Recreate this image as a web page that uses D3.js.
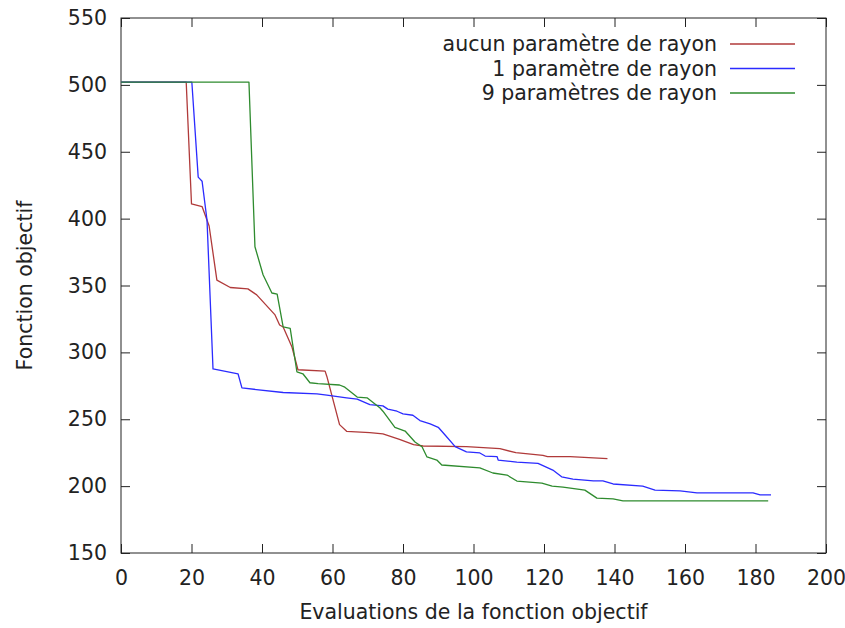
<!DOCTYPE html>
<html>
<head>
<meta charset="utf-8">
<script src="https://cdn.jsdelivr.net/npm/d3@7"></script>
<style>
  body { margin: 0; background: #fff; }
  svg text { font-family: "DejaVu Sans", sans-serif; fill: #222; }
</style>
</head>
<body>
<svg width="845" height="628"></svg>
<script>
// series
var seriesNames = ["aucun paramètre de rayon", "1 paramètre de rayon", "9 paramètres de rayon"];
var seriesColors = ["#b03a3a", "#2b2bff", "#2e8b2e"];

var redX = [0, 18.5, 20, 23, 25, 27.2, 31, 36, 38.5, 43.7, 45, 46, 48.5, 50.2, 57.9, 58.4, 62, 64, 70.6, 74.3, 79, 83, 85.7, 98, 107.5, 112, 119.7, 121, 127.4, 138];
var redY = [502, 502, 411, 409, 394.5, 354, 348.5, 347.5, 343, 328, 320.5, 319, 304, 287, 286, 282, 246, 241, 240, 239, 235, 231, 230, 229.5, 228, 225, 223, 222, 222, 220.5];

var blueX = [0, 20.1, 21.9, 23, 24.4, 26.1, 33.2, 34.3, 46, 55.6, 58.4, 64, 67, 70.6, 74.3, 75.7, 78.3, 80, 82.8, 84.8, 87.7, 90, 92, 94.8, 98, 101.8, 103.3, 106.7, 107, 112.3, 118.3, 122.5, 125, 128.2, 134, 136.7, 139.6, 148, 151.5, 158.6, 163.4, 179.3, 181.3, 184.4];
var blueY = [502, 502, 431, 428, 399, 287.6, 284, 273.4, 270, 269, 268, 266, 265, 261, 260, 257.6, 256, 254, 253, 249, 246.5, 244, 238, 229.5, 225.6, 224.8, 222.5, 222, 219.5, 218, 217, 212, 207, 205.3, 204, 204, 201.6, 200, 197, 196.4, 195, 195, 193.4, 193.4];

var greenX = [0, 36.3, 38, 40.3, 42.8, 44.3, 46, 48, 49.9, 51.6, 53.6, 55.9, 62, 63.5, 67, 69.8, 73.5, 74.3, 77.7, 80.6, 83.4, 85.4, 86.8, 89.6, 91, 101.8, 105.5, 109.5, 112.3, 119.4, 122.3, 125.4, 131.6, 135, 139.6, 142.4, 183.6];
var greenY = [502, 502, 379, 358, 344.4, 343.6, 319, 318, 285.5, 284, 277.3, 276.6, 275.6, 274, 266.6, 266, 258.4, 256, 244, 241.2, 233, 229.5, 221.8, 219.5, 215.8, 213.6, 209.8, 208.3, 203.8, 202.3, 200, 199.3, 197, 191, 190.4, 189, 189];

var xTicks = [0, 20, 40, 60, 80, 100, 120, 140, 160, 180, 200];
var yTicks = [150, 200, 250, 300, 350, 400, 450, 500, 550];

var fontSize = "20.5px";

var svg = d3.select("svg"),
    margin = {left: 121, top: 18, right: 19, bottom: 75},
    width = svg.attr("width") - margin.left - margin.right,
    height = svg.attr("height") - margin.top - margin.bottom;

var xScale = d3.scaleLinear().domain([0, 200]).range([0, width]),
    yScale = d3.scaleLinear().domain([150, 550]).range([height, 0]);

var g = svg.append("g")
    .attr("transform", "translate(" + margin.left + "," + margin.top + ")");

function styleAxis(sel) {
    sel.select(".domain").remove();
    sel.selectAll(".tick line").attr("stroke", "#222");
    sel.selectAll("text").style("font-size", fontSize).attr("fill", "#222");
}

// bottom + left with labels, ticks pointing inward
g.append("g")
    .attr("transform", "translate(0," + height + ")")
    .call(d3.axisBottom(xScale).tickValues(xTicks).tickSizeInner(-9).tickPadding(17))
    .call(styleAxis);

g.append("g")
    .call(d3.axisLeft(yScale).tickValues(yTicks).tickSizeInner(-9).tickPadding(14))
    .call(styleAxis);

// mirrored ticks on top and right
g.append("g")
    .call(d3.axisTop(xScale).tickValues(xTicks).tickSizeInner(-9).tickFormat(""))
    .call(styleAxis);

g.append("g")
    .attr("transform", "translate(" + width + ",0)")
    .call(d3.axisRight(yScale).tickValues(yTicks).tickSizeInner(-9).tickFormat(""))
    .call(styleAxis);

g.append("rect")
    .attr("width", width)
    .attr("height", height)
    .attr("fill", "none")
    .attr("stroke", "#222")
    .attr("stroke-width", 1);

var series = [
    {name: seriesNames[0], color: seriesColors[0], xs: redX, ys: redY},
    {name: seriesNames[1], color: seriesColors[1], xs: blueX, ys: blueY},
    {name: seriesNames[2], color: seriesColors[2], xs: greenX, ys: greenY}
];

var line = d3.line()
    .x(function(d) { return xScale(d[0]); })
    .y(function(d) { return yScale(d[1]); });

series.forEach(function(s) {
    var pts = s.xs.map(function(x, i) { return [x, s.ys[i]]; });
    g.append("path")
        .datum(pts)
        .attr("fill", "none")
        .attr("stroke", s.color)
        .attr("stroke-width", 1.3)
        .attr("stroke-linejoin", "round")
        .attr("d", line);
});

// legend, top right inside the frame
var legend = g.append("g").attr("transform", "translate(" + (width - 109) + ",26)");
series.forEach(function(s, i) {
    var row = legend.append("g").attr("transform", "translate(0," + (i * 24.5) + ")");
    row.append("text")
        .attr("text-anchor", "end")
        .attr("dy", "0.35em")
        .style("font-size", fontSize)
        .text(s.name);
    row.append("line")
        .attr("x1", 13).attr("x2", 78)
        .attr("stroke", s.color)
        .attr("stroke-width", 1.3);
});

// axis titles
svg.append("text")
    .attr("x", margin.left + width / 2)
    .attr("y", 619)
    .attr("text-anchor", "middle")
    .style("font-size", fontSize)
    .text("Evaluations de la fonction objectif");

svg.append("text")
    .attr("transform", "translate(32," + (margin.top + height / 2) + ") rotate(-90)")
    .attr("text-anchor", "middle")
    .style("font-size", fontSize)
    .text("Fonction objectif");
</script>
</body>
</html>
